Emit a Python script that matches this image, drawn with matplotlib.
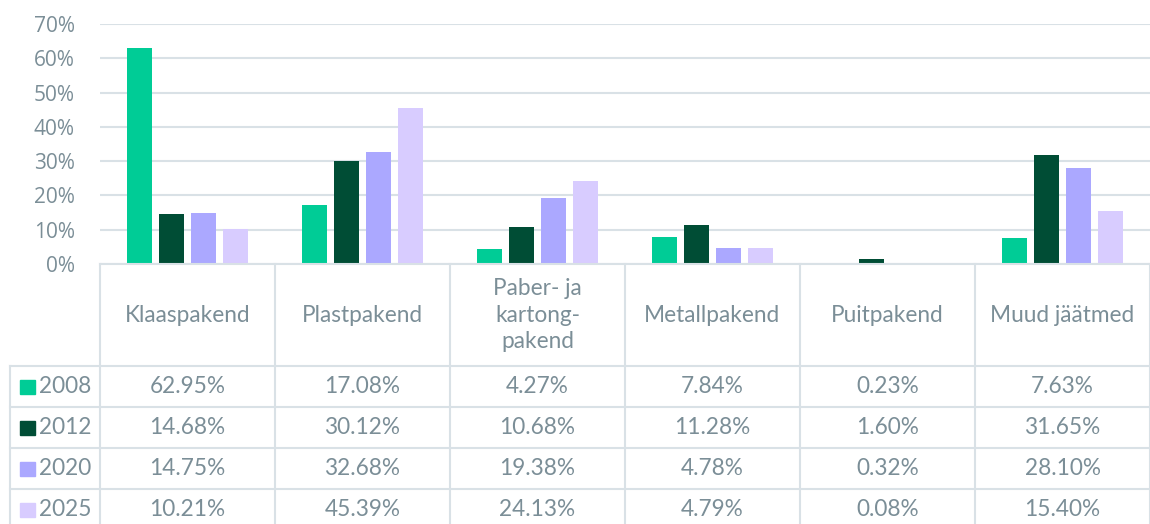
import numpy as np
import matplotlib.pyplot as plt

# Data
categories = ['Klaaspakend', 'Plastpakend', 'Paber- ja\nkartong-\npakend',
              'Metallpakend', 'Puitpakend', 'Muud jäätmed']
years = ['2008', '2012', '2020', '2025']
v2008 = [62.95, 17.08, 4.27, 7.84, 0.23, 7.63]
v2012 = [14.68, 30.12, 10.68, 11.28, 1.60, 31.65]
v2020 = [14.75, 32.68, 19.38, 4.78, 0.32, 28.10]
v2025 = [10.21, 45.39, 24.13, 4.79, 0.08, 15.40]
series = [v2008, v2012, v2020, v2025]
colors = ['#00CC96', '#004D35', '#ABA8FF', '#D8CCFF']

txt_col = '#7B8E97'
line_col = '#D9E1E6'
W, H = 1150, 524

fig = plt.figure(figsize=(W / 100, H / 100), dpi=100)

# Chart
ax = fig.add_axes([100 / W, 260 / H, 1050 / W, 240 / H])
x = np.arange(len(categories))
bw = 0.143
step = 0.183
for k, (vals, c) in enumerate(zip(series, colors)):
    ax.bar(x + (k - 1.5) * step, vals, width=bw, color=c, zorder=3)
ax.set_xlim(-0.5, 5.5)
ax.set_ylim(0, 70)
ax.set_yticks(np.arange(0, 71, 10))
ax.set_yticklabels([f'{t}%' for t in range(0, 71, 10)],
                   fontsize=15, color=txt_col, family='Open Sans')
ax.tick_params(axis='y', length=0, pad=18)
ax.set_xticks([])
ax.yaxis.grid(True, color=line_col, lw=1.5)
ax.set_axisbelow(True)
for s in ax.spines.values():
    s.set_visible(False)

# Data table
tab = fig.add_axes([100 / W, 0, 1050 / W, 260 / H])
tab.set_xlim(-0.5, 5.5)
tab.set_ylim(260, 0)
tab.axis('off')
px = 1 / 175  # one pixel in column units
x_left = -0.5 - 90 * px
head_h = 102
row_h = 41
tfont = dict(family='Lato', fontsize=16.3, color=txt_col)

lkw = dict(color=line_col, lw=1.5, clip_on=False)
tab.plot([-0.5, 5.5], [0, 0], **lkw)
for r in range(4):
    yy = head_h + r * row_h
    tab.plot([x_left, 5.5], [yy, yy], **lkw)
for i in range(7):
    tab.plot([-0.5 + i, -0.5 + i], [0, 260], **lkw)
tab.plot([x_left, x_left], [head_h, 260], **lkw)

for i, cat in enumerate(categories):
    tab.text(i, head_h / 2, cat, ha='center', va='center',
             linespacing=1.3, **tfont)

for r, (yr, vals, c) in enumerate(zip(years, series, colors)):
    yc = head_h + r * row_h + row_h / 2
    tab.add_patch(plt.Rectangle((x_left + 10 * px, yc - 7), 15 * px, 14,
                                color=c, clip_on=False))
    tab.text(x_left + 29 * px, yc, yr, ha='left', va='center', **tfont)
    for i, v in enumerate(vals):
        tab.text(i, yc, f'{v:.2f}%', ha='center', va='center', **tfont)

fig.savefig('out.png', dpi=100)
